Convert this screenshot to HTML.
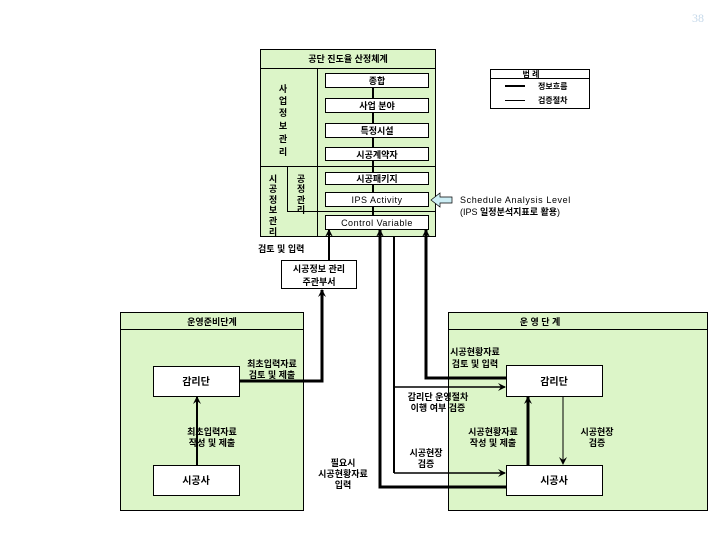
<!DOCTYPE html>
<html><head><meta charset="utf-8"><style>
body{margin:0;background:#fff;}
svg text{font-family:"Liberation Sans","Noto Sans CJK KR",sans-serif;font-size:9px;font-weight:bold;fill:#000;}
</style></head><body>
<svg width="720" height="540" viewBox="0 0 720 540" xmlns="http://www.w3.org/2000/svg">
<defs>
<marker id="ah" markerWidth="8" markerHeight="8" refX="7" refY="4" orient="auto" markerUnits="userSpaceOnUse"><path d="M0,0 L8,4 L0,8 L3,4 z" fill="#000"/></marker>
</defs>
<text x="692" y="22" style="font-size:12px;font-weight:normal;fill:#c6d9ea;font-family:'Liberation Serif',serif">38</text>

<!-- top box -->
<rect x="260.5" y="49.5" width="175" height="187" fill="#dcf5c8" stroke="#000"/>
<line x1="260" y1="68.5" x2="436" y2="68.5" stroke="#000"/>
<line x1="317.5" y1="68" x2="317.5" y2="236" stroke="#000"/>
<line x1="260" y1="166.5" x2="436" y2="166.5" stroke="#000"/>
<line x1="287.5" y1="166" x2="287.5" y2="211" stroke="#000"/>
<line x1="287" y1="211.5" x2="436" y2="211.5" stroke="#000"/>
<text x="348" y="62" text-anchor="middle">공단 진도율 산정체계</text>
<line x1="373" y1="88" x2="373" y2="216" stroke="#000" stroke-width="2"/>
<g fill="#fff" stroke="#000">
<rect x="325.5" y="73.5" width="103" height="14"/>
<rect x="325.5" y="98.5" width="103" height="14"/>
<rect x="325.5" y="123.5" width="103" height="14"/>
<rect x="325.5" y="147.5" width="103" height="13"/>
<rect x="325.5" y="172.5" width="103" height="12"/>
<rect x="325.5" y="192.5" width="103" height="14"/>
<rect x="325.5" y="215.5" width="103" height="14"/>
</g>
<text x="377" y="84" text-anchor="middle">종합</text>
<text x="377" y="109" text-anchor="middle">사업 분야</text>
<text x="377" y="134" text-anchor="middle">특정시설</text>
<text x="377" y="158" text-anchor="middle">시공계약자</text>
<text x="377" y="182" text-anchor="middle">시공패키지</text>
<text x="377" y="203" text-anchor="middle" style="font-weight:normal;letter-spacing:0.5px">IPS Activity</text>
<text x="377" y="226" text-anchor="middle" style="font-weight:normal;letter-spacing:0.5px">Control Variable</text>
<g text-anchor="middle">
<text x="283" y="92">사</text><text x="283" y="104">업</text><text x="283" y="116">정</text><text x="283" y="129">보</text><text x="283" y="142">관</text><text x="283" y="155">리</text>
<text x="273" y="182">시</text><text x="273" y="192">공</text><text x="273" y="203">정</text><text x="273" y="213">보</text><text x="273" y="224">관</text><text x="273" y="235">리</text>
<text x="301" y="182">공</text><text x="301" y="192">정</text><text x="301" y="203">관</text><text x="301" y="213">리</text>
</g>

<!-- legend -->
<rect x="490.5" y="69.5" width="99" height="39" fill="#fff" stroke="#000"/>
<line x1="490" y1="78.5" x2="590" y2="78.5" stroke="#000"/>
<text x="531" y="77" text-anchor="middle" style="font-size:8px">범 례</text>
<line x1="505" y1="86" x2="525" y2="86" stroke="#000" stroke-width="2"/>
<line x1="505" y1="100.5" x2="525" y2="100.5" stroke="#000" stroke-width="1"/>
<text x="538" y="89" style="font-size:8px">정보흐름</text>
<text x="538" y="103" style="font-size:8px">검증절차</text>

<!-- blue arrow -->
<path d="M431,200 L440,193 L440,197 L452,197 L452,203 L440,203 L440,207 z" fill="#cdeef5" stroke="#000" stroke-width="0.7"/>
<text x="460" y="203" style="font-weight:normal;letter-spacing:0.6px">Schedule Analysis Level</text>
<text x="460" y="215" style="font-weight:normal">(IPS <tspan font-weight="bold">일정분석지표로 활용</tspan>)</text>

<text x="258" y="252">검토 및 입력</text>
<rect x="281.5" y="260.5" width="75" height="28" fill="#fff" stroke="#000"/>
<text x="319" y="272" text-anchor="middle">시공정보 관리</text>
<text x="319" y="285" text-anchor="middle">주관부서</text>

<!-- green boxes -->
<rect x="120.5" y="312.5" width="183" height="198" fill="#dcf5c8" stroke="#000"/>
<line x1="120" y1="329.5" x2="304" y2="329.5" stroke="#000"/>
<text x="212" y="325" text-anchor="middle">운영준비단계</text>
<rect x="448.5" y="312.5" width="259" height="198" fill="#dcf5c8" stroke="#000"/>
<line x1="448" y1="329.5" x2="708" y2="329.5" stroke="#000"/>
<text x="540" y="325" text-anchor="middle">운 영 단 계</text>

<g fill="#fff" stroke="#000">
<rect x="153.5" y="366.5" width="86" height="30"/>
<rect x="153.5" y="465.5" width="86" height="30"/>
<rect x="506.5" y="365.5" width="96" height="31"/>
<rect x="506.5" y="465.5" width="96" height="30"/>
</g>
<text x="196" y="385" text-anchor="middle" style="font-size:10px">감리단</text>
<text x="196" y="484" text-anchor="middle" style="font-size:10px">시공사</text>
<text x="554" y="385" text-anchor="middle" style="font-size:10px">감리단</text>
<text x="554" y="484" text-anchor="middle" style="font-size:10px">시공사</text>

<!-- connectors -->
<g fill="none" stroke="#000">
<polyline points="240,381 322,381 322,290" stroke-width="3" marker-end="url(#ah)"/>
<line x1="329" y1="260" x2="329" y2="230" stroke-width="2" marker-end="url(#ah)"/>
<line x1="197" y1="465" x2="197" y2="397" stroke-width="2" marker-end="url(#ah)"/>
<polyline points="506,487 380,487 380,230" stroke-width="3" marker-end="url(#ah)"/>
<line x1="394" y1="473" x2="394" y2="236" stroke-width="2"/>
<line x1="394" y1="387" x2="505" y2="387" stroke-width="1.5" marker-end="url(#ah)"/>
<line x1="394" y1="473" x2="505" y2="473" stroke-width="1.5" marker-end="url(#ah)"/>
<polyline points="506,378 426,378 426,230" stroke-width="3" marker-end="url(#ah)"/>
<line x1="528" y1="465" x2="528" y2="397" stroke-width="3" marker-end="url(#ah)"/>
<line x1="563" y1="397" x2="563" y2="464" stroke-width="1" marker-end="url(#ah)"/>
</g>

<g text-anchor="middle" style="font-size:8.5px">
<text x="272" y="367">최초입력자료</text><text x="272" y="378">검토 및 제출</text>
<text x="475" y="355">시공현황자료</text><text x="475" y="367">검토 및 입력</text>
<text x="438" y="400">감리단 운영절차</text><text x="438" y="411">이행 여부 검증</text>
<text x="212" y="435">최초입력자료</text><text x="212" y="446">작성 및 제출</text>
<text x="493" y="435">시공현황자료</text><text x="493" y="446">작성 및 제출</text>
<text x="597" y="435">시공현장</text><text x="597" y="446">검증</text>
<text x="426" y="456">시공현장</text><text x="426" y="467">검증</text>
<text x="343" y="466">필요시</text><text x="343" y="477">시공현황자료</text><text x="343" y="488">입력</text>
</g>
</svg>
</body></html>
